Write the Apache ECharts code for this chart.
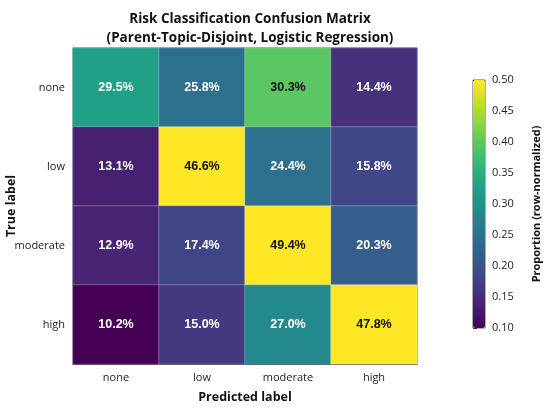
<!DOCTYPE html>
<html>
<head>
<meta charset="utf-8">
<style>
html, body { margin: 0; padding: 0; background: #fff; }
#chart { width: 550px; height: 409px; }
</style>
<script src="https://cdn.jsdelivr.net/npm/echarts@6/dist/echarts.min.js"></script>
</head>
<body>
<div id="chart"></div>
<script>
var predLabels = ['none', 'low', 'moderate', 'high'];
var trueLabels = ['none', 'low', 'moderate', 'high'];

// row-normalized proportions as printed in the cells (rows = true label)
var rowNone = [0.295, 0.258, 0.303, 0.144];
var rowLow = [0.131, 0.466, 0.244, 0.158];
var rowModerate = [0.129, 0.174, 0.494, 0.203];
var rowHigh = [0.102, 0.150, 0.270, 0.478];

// shade of each cell on the colour bar
var shadeNone = [0.325, 0.248, 0.396, 0.156];
var shadeLow = [0.135, 0.50, 0.248, 0.185];
var shadeModerate = [0.14, 0.182, 0.50, 0.218];
var shadeHigh = [0.10, 0.166, 0.288, 0.50];

var barTicks = [0.10, 0.15, 0.20, 0.25, 0.30, 0.35, 0.40, 0.45, 0.50];

var viridis = ['#440154', '#482475', '#414487', '#355f8d', '#2a788e', '#21918c',
	'#22a884', '#44bf70', '#7ad151', '#bddf26', '#fde725'];

var rows = [rowNone, rowLow, rowModerate, rowHigh];
var shades = [shadeNone, shadeLow, shadeModerate, shadeHigh];

var cells = [];
rows.forEach(function (row, r) {
	row.forEach(function (v, c) {
		var s = shades[r][c];
		cells.push({
			value: [c, r, s, v],
			label: { color: s > 0.36 ? '#111' : '#fff' }
		});
	});
});

var font = '"Open Sans", "Noto Sans", sans-serif';

var myChart = echarts.init(document.getElementById('chart'));
var option = {
	backgroundColor: '#fff',
	animation: false,
	title: {
		text: 'Risk Classification Confusion Matrix\n(Parent-Topic-Disjoint, Logistic Regression)',
		left: 245,
		textAlign: 'center',
		top: 5,
		textStyle: { fontFamily: font, fontSize: 13.5, fontWeight: 'bold', color: '#111', lineHeight: 19 }
	},
	grid: [
		{ left: 73, top: 48, width: 344, height: 316, show: true, borderColor: '#333', borderWidth: 1,
			containLabel: false, outerBoundsMode: 'none' },
		{ left: 473, top: 80, width: 12, height: 248, show: true, borderColor: '#333', borderWidth: 0.8,
			containLabel: false, outerBoundsMode: 'none' }
	],
	xAxis: [
		{
			type: 'category', gridIndex: 0, data: predLabels, position: 'bottom',
			name: 'Predicted label', nameLocation: 'middle', nameGap: 27, nameMoveOverlap: false,
			nameTextStyle: { fontFamily: font, fontSize: 12.5, fontWeight: 'bold', color: '#111' },
			axisLine: { lineStyle: { color: '#333', width: 1 } },
			axisTick: { alignWithLabel: true, length: 4, lineStyle: { color: '#333' } },
			axisLabel: { fontFamily: font, fontSize: 11, color: '#222', margin: 8 },
			splitLine: { show: false }
		},
		{ type: 'value', gridIndex: 1, show: false, min: 0, max: 1 }
	],
	yAxis: [
		{
			type: 'category', gridIndex: 0, data: trueLabels, inverse: true,
			name: 'True label', nameLocation: 'middle', nameGap: 55, nameRotate: 90, nameMoveOverlap: false,
			nameTextStyle: { fontFamily: font, fontSize: 12.5, fontWeight: 'bold', color: '#111' },
			axisLine: { lineStyle: { color: '#333', width: 1 } },
			axisTick: { alignWithLabel: true, length: 4, lineStyle: { color: '#333' } },
			axisLabel: { fontFamily: font, fontSize: 11, color: '#222', margin: 8 },
			splitLine: { show: false }
		},
		{
			type: 'value', gridIndex: 1, position: 'right', min: 0.1, max: 0.5, interval: 0.05,
			name: 'Proportion (row-normalized)', nameLocation: 'middle', nameGap: 46, nameRotate: 90,
			nameMoveOverlap: false,
			nameTextStyle: { fontFamily: font, fontSize: 11, fontWeight: 'bold', color: '#111' },
			axisLine: { show: false },
			axisTick: { show: true, length: 4, lineStyle: { color: '#333' } },
			axisLabel: {
				fontFamily: font, fontSize: 11, color: '#222', margin: 7,
				formatter: function (v) { return v.toFixed(2); }
			},
			splitLine: { show: false }
		}
	],
	visualMap: {
		type: 'continuous',
		seriesIndex: 0,
		dimension: 2,
		min: barTicks[0],
		max: barTicks[barTicks.length - 1],
		calculable: false,
		realtime: false,
		left: 473,
		top: 80,
		padding: 0,
		itemWidth: 12,
		itemHeight: 248,
		text: null,
		showLabel: false,
		inRange: { color: viridis }
	},
	series: [
		{
			type: 'heatmap',
			xAxisIndex: 0,
			yAxisIndex: 0,
			data: cells,
			itemStyle: { borderColor: 'rgba(255,255,255,0.45)', borderWidth: 0.6 },
			label: {
				show: true,
				fontFamily: '"Liberation Sans", Arial, sans-serif',
				fontSize: 12.5,
				fontWeight: 'bold',
				formatter: function (p) { return (p.value[3] * 100).toFixed(1) + '%'; }
			},
			emphasis: { disabled: true }
		},
		{
			type: 'line', xAxisIndex: 1, yAxisIndex: 1, data: [], silent: true
		}
	]
};
myChart.setOption(option);
</script>
</body>
</html>
